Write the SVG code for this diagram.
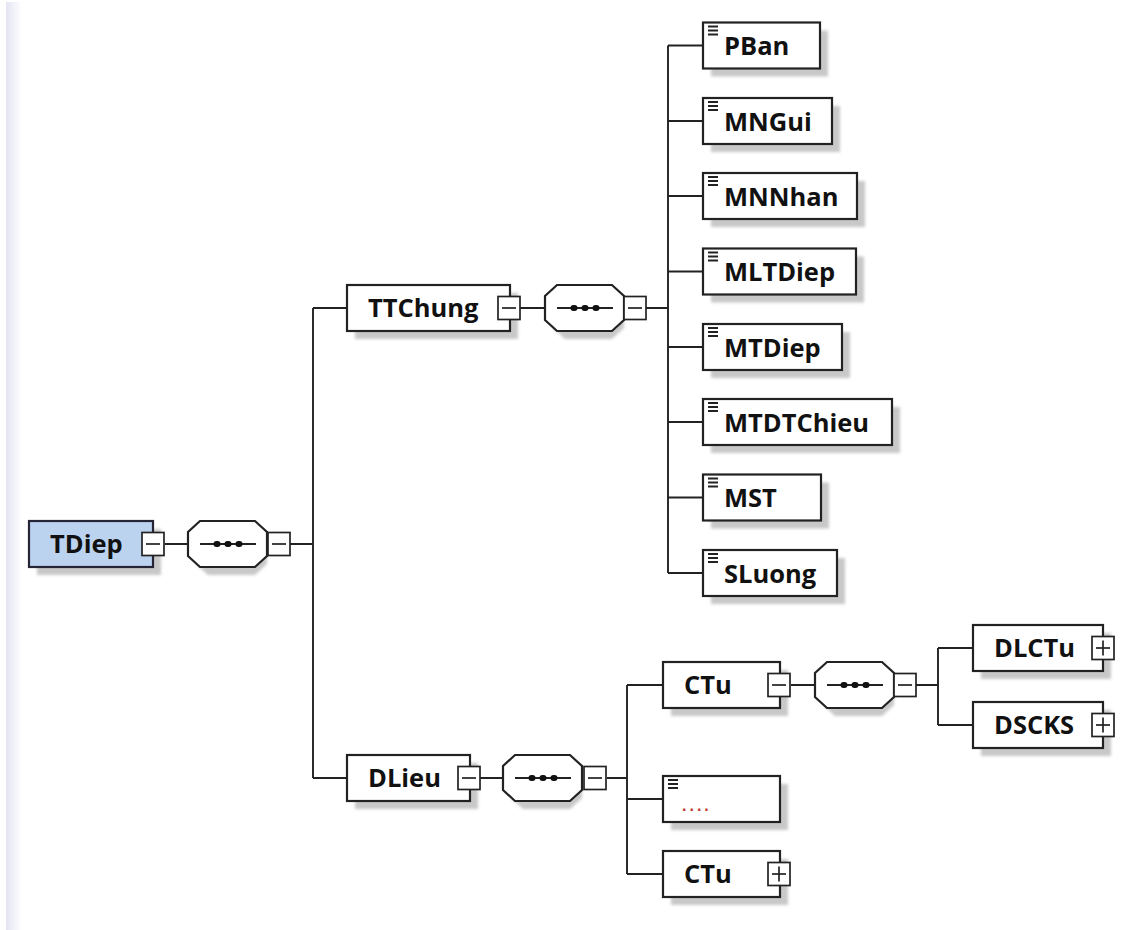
<svg xmlns="http://www.w3.org/2000/svg" width="1123" height="930" viewBox="0 0 1123 930">
<defs>
<style>
.box{fill:#fff;stroke:#222;stroke-width:2.2}
.root{fill:#bcd3f0;stroke:#252535;stroke-width:2.2}
.sh{fill:#c8c8c8;filter:url(#blur)}
.lbl{font-family:"Open Sans","DejaVu Sans",sans-serif;font-weight:bold;font-size:25.5px;fill:#111}
.tg{fill:#fff;stroke:#222;stroke-width:1.7}
.tgl{stroke:#222;stroke-width:1.7;fill:none}
.ic{stroke:#222;stroke-width:2}
.ln{stroke:#222;stroke-width:1.9;fill:none}
.oct{fill:#fff;stroke:#222;stroke-width:2.2}
.dot{fill:#111}
</style>
<filter id="blur" x="-10%" y="-10%" width="120%" height="130%"><feGaussianBlur stdDeviation="1.5"/></filter>
<linearGradient id="edge" x1="0" y1="0" x2="1" y2="0"><stop offset="0" stop-color="#e4e4f2"/><stop offset="1" stop-color="#ffffff"/></linearGradient>
<g id="minus"><rect class="tg" x="0" y="0" width="22" height="23"/><line class="tgl" x1="4" y1="11.5" x2="18" y2="11.5"/></g>
<g id="plus"><rect class="tg" x="0" y="0" width="22" height="23"/><line class="tgl" x1="4" y1="11.5" x2="18" y2="11.5"/><line class="tgl" x1="11" y1="4" x2="11" y2="19"/></g>
<g id="icon"><line class="ic" x1="5" y1="4" x2="15" y2="4"/><line class="ic" x1="5" y1="8" x2="15" y2="8"/><line class="ic" x1="5" y1="12" x2="15" y2="12"/></g>
<g id="seq"><polygon class="sh" points="20,8 67,8 79,19 79,43 67,54 20,54 8,43 8,19"/><polygon class="oct" points="12,0 67,0 79,11 79,35 67,46 12,46 0,35 0,11"/><line class="ln" x1="12" y1="23" x2="68" y2="23"/><rect class="dot" x="25.5" y="20" width="7" height="6" rx="3"/><rect class="dot" x="36.5" y="20" width="7" height="6" rx="3"/><rect class="dot" x="47.5" y="20" width="7" height="6" rx="3"/></g>
</defs>
<rect x="0" y="0" width="1123" height="930" fill="#fff"/>
<rect x="6" y="2" width="16" height="928" fill="url(#edge)"/>

<g id="connectors">
<path class="ln" d="M165 544H188 M290 544H313 M313 308V778 M313 308H347 M313 778H347"/>
<path class="ln" d="M520 308H545 M646 308H668 M668 45.5V573 M668 45.5H703 M668 121H703 M668 196H703 M668 271.5H703 M668 347H703 M668 422H703 M668 497.5H703 M668 573H703"/>
<path class="ln" d="M480 778H503 M607 778H627 M627 685V874 M627 685H663 M627 799H663 M627 874H663"/>
<path class="ln" d="M791 685H815 M916 685H938 M938 648V725 M938 648H973 M938 725H973"/>
</g>

<g id="TDiep">
<rect class="sh" x="37" y="529" width="124" height="46"/>
<rect class="root" x="29" y="521" width="124" height="46"/>
<text class="lbl" x="50" y="553">TDiep</text>
<use href="#minus" x="142" y="532.5"/>
</g>
<g id="seq-TDiep"><use href="#seq" x="188" y="521"/><use href="#minus" x="268" y="532.5"/></g>

<g id="TTChung">
<rect class="sh" x="355" y="293" width="163" height="46"/>
<rect class="box" x="347" y="285" width="163" height="46"/>
<text class="lbl" x="368" y="317">TTChung</text>
<use href="#minus" x="498" y="296.5"/>
</g>
<g id="seq-TTChung"><use href="#seq" x="545" y="285"/><use href="#minus" x="624" y="296.5"/></g>

<g id="PBan"><rect class="sh" x="711" y="30.5" width="117" height="46"/><rect class="box" x="703" y="22.5" width="117" height="46"/><use href="#icon" x="703" y="22.5"/><text class="lbl" x="724" y="55">PBan</text></g>
<g id="MNGui"><rect class="sh" x="711" y="106" width="129" height="46"/><rect class="box" x="703" y="98" width="129" height="46"/><use href="#icon" x="703" y="98"/><text class="lbl" x="724" y="130.5">MNGui</text></g>
<g id="MNNhan"><rect class="sh" x="711" y="181" width="154" height="46"/><rect class="box" x="703" y="173" width="154" height="46"/><use href="#icon" x="703" y="173"/><text class="lbl" x="724" y="205.5">MNNhan</text></g>
<g id="MLTDiep"><rect class="sh" x="711" y="256.5" width="153" height="46"/><rect class="box" x="703" y="248.5" width="153" height="46"/><use href="#icon" x="703" y="248.5"/><text class="lbl" x="724" y="281">MLTDiep</text></g>
<g id="MTDiep"><rect class="sh" x="711" y="332" width="139" height="46"/><rect class="box" x="703" y="324" width="139" height="46"/><use href="#icon" x="703" y="324"/><text class="lbl" x="724" y="356.5">MTDiep</text></g>
<g id="MTDTChieu"><rect class="sh" x="711" y="407" width="189" height="46"/><rect class="box" x="703" y="399" width="189" height="46"/><use href="#icon" x="703" y="399"/><text class="lbl" x="724" y="431.5">MTDTChieu</text></g>
<g id="MST"><rect class="sh" x="711" y="482.5" width="118" height="46"/><rect class="box" x="703" y="474.5" width="118" height="46"/><use href="#icon" x="703" y="474.5"/><text class="lbl" x="724" y="507">MST</text></g>
<g id="SLuong"><rect class="sh" x="711" y="558" width="134" height="46"/><rect class="box" x="703" y="550" width="134" height="46"/><use href="#icon" x="703" y="550"/><text class="lbl" x="724" y="582.5">SLuong</text></g>

<g id="DLieu">
<rect class="sh" x="355" y="763" width="123" height="46"/>
<rect class="box" x="347" y="755" width="123" height="46"/>
<text class="lbl" x="368" y="787">DLieu</text>
<use href="#minus" x="458" y="766.5"/>
</g>
<g id="seq-DLieu"><use href="#seq" x="503" y="755"/><use href="#minus" x="584" y="766.5"/></g>

<g id="CTu1">
<rect class="sh" x="671" y="670" width="117" height="46"/>
<rect class="box" x="663" y="662" width="117" height="46"/>
<text class="lbl" x="684" y="694">CTu</text>
<use href="#minus" x="768" y="673.5"/>
</g>
<g id="seq-CTu"><use href="#seq" x="815" y="662"/><use href="#minus" x="894" y="673.5"/></g>

<g id="Empty">
<rect class="sh" x="671" y="784" width="117" height="46"/>
<rect class="box" x="663" y="776" width="117" height="46"/>
<use href="#icon" x="663" y="776"/>
<text x="682" y="811" font-family="'Liberation Sans',sans-serif" font-size="16" font-weight="bold" letter-spacing="3" fill="#c0392b">....</text>
</g>

<g id="CTu2">
<rect class="sh" x="671" y="859" width="117" height="46"/>
<rect class="box" x="663" y="851" width="117" height="46"/>
<text class="lbl" x="684" y="883">CTu</text>
<use href="#plus" x="768" y="862.5"/>
</g>

<g id="DLCTu">
<rect class="sh" x="981" y="633" width="130" height="46"/>
<rect class="box" x="973" y="625" width="130" height="46"/>
<text class="lbl" x="994" y="657">DLCTu</text>
<use href="#plus" x="1092" y="636.5"/>
</g>
<g id="DSCKS">
<rect class="sh" x="981" y="710" width="130" height="46"/>
<rect class="box" x="973" y="702" width="130" height="46"/>
<text class="lbl" x="994" y="734">DSCKS</text>
<use href="#plus" x="1092" y="713.5"/>
</g>
</svg>
